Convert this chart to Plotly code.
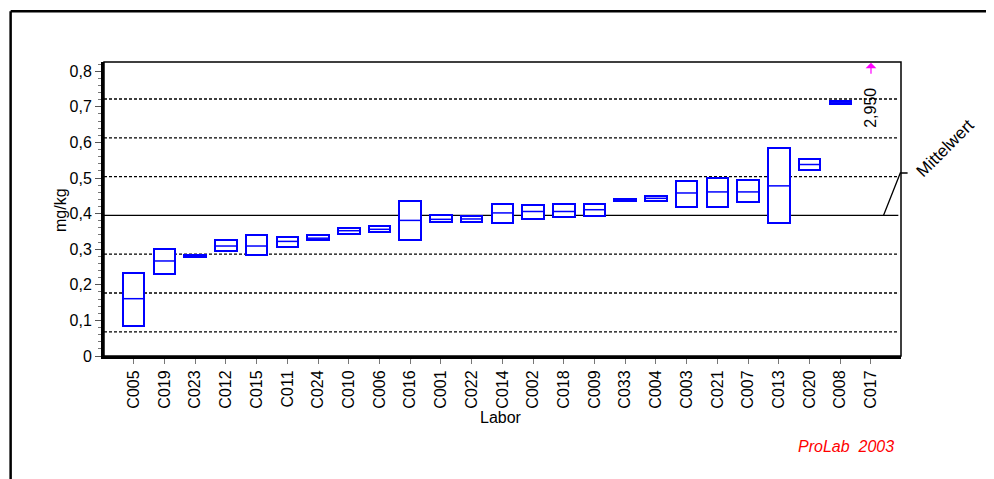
import plotly.graph_objects as go

labs = ["C005", "C019", "C023", "C012", "C015", "C011", "C024", "C010", "C006", "C016",
        "C001", "C022", "C014", "C002", "C018", "C009", "C033", "C004", "C003", "C021",
        "C007", "C013", "C020", "C008", "C017"]
high = [0.234, 0.300, 0.283, 0.326, 0.340, 0.334, 0.339, 0.360, 0.364, 0.435,
        0.395, 0.394, 0.427, 0.423, 0.427, 0.427, 0.441, 0.449, 0.492, 0.500,
        0.495, 0.584, 0.554, 0.717, None]
median = [0.161, 0.267, 0.281, 0.309, 0.309, 0.322, 0.331, 0.352, 0.356, 0.381,
          0.384, 0.385, 0.402, 0.406, 0.406, 0.411, 0.439, 0.443, 0.458, 0.461,
          0.461, 0.478, 0.538, 0.713, 2.950]
low = [0.084, 0.229, 0.279, 0.296, 0.283, 0.305, 0.327, 0.344, 0.347, 0.327,
       0.376, 0.377, 0.373, 0.386, 0.390, 0.394, 0.436, 0.436, 0.420, 0.420,
       0.432, 0.373, 0.522, 0.708, None]
mean_value = 0.395
limit_lines = [0.068, 0.177, 0.286, 0.504, 0.613, 0.722]
y_ticks = [0, 0.1, 0.2, 0.3, 0.4, 0.5, 0.6, 0.7, 0.8]
y_ticktext = ["0", "0,1", "0,2", "0,3", "0,4", "0,5", "0,6", "0,7", "0,8"]

W, H = 994, 479
OFF = 8  # page body margin
ML, MT = 104.3 - OFF, 61.7 - OFF
MB = H - (355.7 - OFF)
MR = W - (900.7 - OFF)
YMAX = 0.826
XR = [-0.968, 24.977]
BOXW = 0.7
BLUE = "#0000FF"
FONT = "Liberation Sans, Arial, sans-serif"
FS = 16

def px_to_paper_x(px):
    return (px - OFF - ML) / (W - ML - MR)

def px_to_paper_y(py):
    return (H - MB - (py - OFF)) / (H - MT - MB)

idx = list(range(len(labs)))
in_range = [i for i in idx if high[i] is not None and high[i] <= YMAX]

fig = go.Figure()

fig.add_trace(go.Bar(
    x=[i for i in in_range],
    y=[high[i] - low[i] for i in in_range],
    base=[low[i] for i in in_range],
    width=BOXW,
    marker=dict(color="white", line=dict(color=BLUE, width=2)),
    hoverinfo="skip", showlegend=False,
))

mx, my = [], []
for i in in_range:
    mx += [i - BOXW / 2, i + BOXW / 2, None]
    my += [median[i], median[i], None]
fig.add_trace(go.Scatter(x=mx, y=my, mode="lines",
                         line=dict(color=BLUE, width=1.5),
                         hoverinfo="skip", showlegend=False))

shapes = []
x_end = 24.89
for v in limit_lines:
    shapes.append(dict(type="line", xref="x", yref="y", x0=XR[0], x1=x_end, y0=v, y1=v,
                       line=dict(color="black", width=1.3, dash="3px,2px"), layer="below"))
shapes.append(dict(type="line", xref="x", yref="y", x0=XR[0], x1=x_end, y0=mean_value, y1=mean_value,
                   line=dict(color="black", width=1.3), layer="below"))
# plot frame (thin top/right)
shapes.append(dict(type="rect", xref="paper", yref="paper", x0=0, x1=1, y0=0, y1=1,
                   line=dict(color="black", width=1.5), layer="above"))
# outer frame: top and left lines
shapes.append(dict(type="line", xref="paper", yref="paper",
                   x0=px_to_paper_x(11), x1=px_to_paper_x(1010),
                   y0=px_to_paper_y(11), y1=px_to_paper_y(11),
                   line=dict(color="black", width=2.5)))
shapes.append(dict(type="line", xref="paper", yref="paper",
                   x0=px_to_paper_x(11), x1=px_to_paper_x(11),
                   y0=px_to_paper_y(11), y1=px_to_paper_y(500),
                   line=dict(color="black", width=2.5)))
# Mittelwert leader line
shapes.append(dict(type="path", xref="paper", yref="paper",
                   path="M %f,%f L %f,%f L %f,%f" % (
                       px_to_paper_x(883.3), px_to_paper_y(215),
                       px_to_paper_x(900), px_to_paper_y(172.7),
                       px_to_paper_x(907.3), px_to_paper_y(172.7)),
                   line=dict(color="black", width=1.3)))

def label(text, px, py, size=FS, color="black", angle=0):
    return dict(text=text, xref="paper", yref="paper", x=px_to_paper_x(px), y=px_to_paper_y(py),
                xanchor="center", yanchor="middle", showarrow=False, textangle=angle,
                font=dict(size=size, color=color, family=FONT))

annotations = [
    label("Labor", 501, 417),
    label("mg/kg", 61, 210, angle=-90),
    label("<i>ProLab  2003</i>", 845.5, 446, color="red"),
    label("Mittelwert", 944.7, 148.3, size=17, angle=-45),
]
# off-scale value annotation
for i in idx:
    if median[i] > YMAX:
        annotations.append(dict(text=("%.3f" % median[i]).replace(".", ","), xref="x", yref="paper",
                                x=i, y=px_to_paper_y(107.5), xanchor="center", yanchor="middle",
                                showarrow=False, textangle=-90,
                                font=dict(size=FS, color="black", family=FONT)))
        annotations.append(dict(text="", xref="x", yref="paper", axref="pixel", ayref="pixel",
                                x=i, y=px_to_paper_y(62.5), ax=0, ay=12.5,
                                showarrow=True, arrowhead=1, arrowsize=1.5, arrowwidth=1.2,
                                arrowcolor="magenta"))

fig.update_layout(
    width=W, height=H,
    margin=dict(l=ML, r=MR, t=MT, b=MB),
    paper_bgcolor="white", plot_bgcolor="white",
    font=dict(family=FONT, size=FS, color="black"),
    shapes=shapes, annotations=annotations,
    showlegend=False, bargap=0,
    xaxis=dict(range=XR, tickmode="array", tickvals=idx, ticktext=labs, tickangle=-90,
               ticks="outside", ticklen=5, tickcolor="#777", tickwidth=1,
               showgrid=False, zeroline=False, showline=True, linecolor="black", linewidth=3,
               tickfont=dict(size=FS, family=FONT, color="black"), fixedrange=True),
    yaxis=dict(range=[0, YMAX], tickmode="array", tickvals=y_ticks, ticktext=y_ticktext,
               ticks="outside", ticklen=6, tickcolor="#555", tickwidth=1,
               minor=dict(dtick=0.02, ticks="outside", ticklen=3, tickcolor="#777", showgrid=False),
               showgrid=False, zeroline=False, showline=True, linecolor="black", linewidth=3,
               tickfont=dict(size=FS, family=FONT, color="black"), fixedrange=True),
)

fig.write_html("out.html")
